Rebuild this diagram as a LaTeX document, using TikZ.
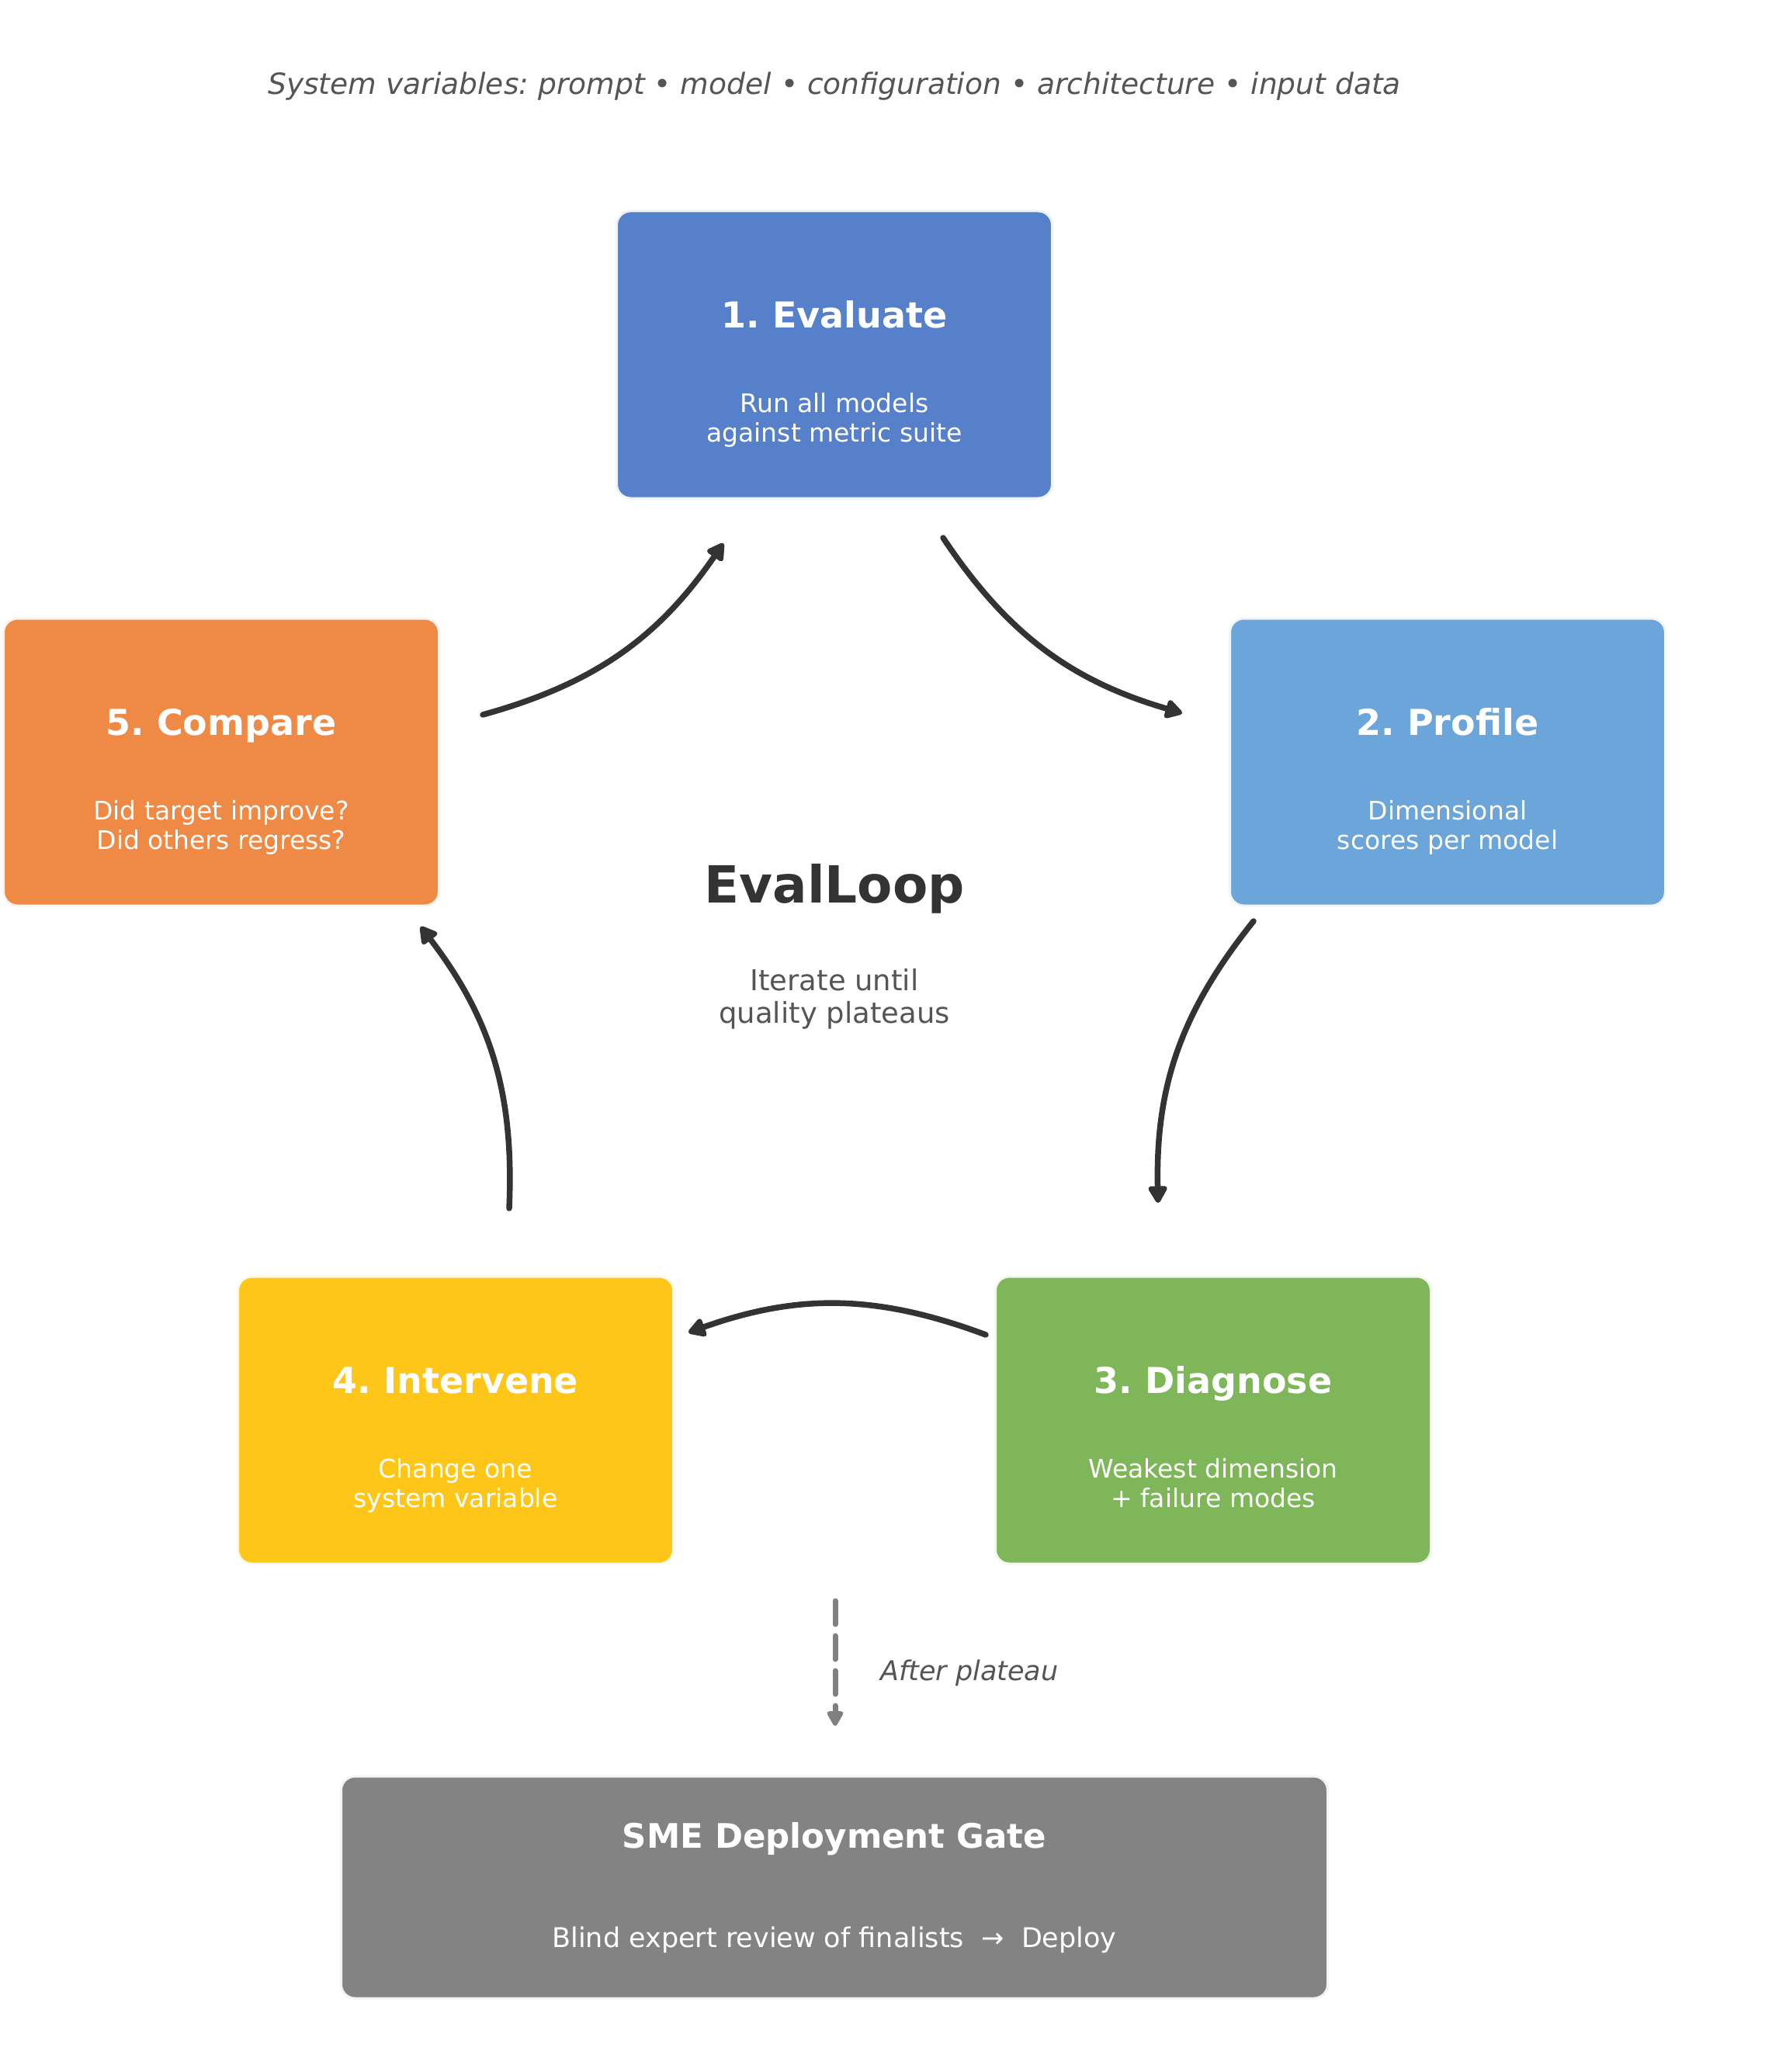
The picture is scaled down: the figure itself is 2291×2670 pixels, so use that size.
\documentclass[tikz,border=0pt]{standalone}
\usepackage{fontspec}
\setmainfont{DejaVu Sans}
\usetikzlibrary{arrows.meta,calc}
\definecolor{cEval}{HTML}{5780CA}
\definecolor{cProf}{HTML}{6BA5D9}
\definecolor{cDiag}{HTML}{7EB659}
\definecolor{cInt}{HTML}{FFC61A}
\definecolor{cComp}{HTML}{EE8A46}
\definecolor{cGate}{HTML}{838383}
\definecolor{ink}{HTML}{333333}
\definecolor{muted}{HTML}{555555}
\definecolor{dashgray}{HTML}{808080}
\frenchspacing
\begin{document}
\begin{tikzpicture}[x=1pt,y=-1pt,
  stage/.style={rectangle, rounded corners=18pt, minimum width=561pt, minimum height=370pt, inner sep=0pt, draw=#1!10, line width=3pt, fill=#1},
  ttl/.style={text=white, font=\fontsize{46}{54}\selectfont\bfseries, inner sep=0pt, anchor=base},
  sub/.style={text=white, font=\fontsize{33}{38}\selectfont, inner sep=0pt, anchor=base},
  loop/.style={draw=ink, line width=7.5pt, line cap=round, -{Triangle[length=25pt,width=27pt,round]}},
]
\useasboundingbox[fill=white] (0,0) rectangle (2291,2670);

\node[text=muted, font=\fontsize{37.6}{44}\selectfont\itshape, inner sep=0pt, anchor=base] (vars) at (1075,122) {System variables: prompt • model • configuration • architecture • input data};

\node[stage=cEval] (b1) at (1075,457) {};
\node[stage=cProf] (b2) at (1865,982) {};
\node[stage=cDiag] (b3) at (1563,1830) {};
\node[stage=cInt] (b4) at (587,1830) {};
\node[stage=cComp] (b5) at (285,982) {};

\node[ttl] (t1) at ($(b1)+(0,-35)$) {1. Evaluate};
\node[sub] (s1a) at ($(b1)+(0,74)$) {Run all models};
\node[sub] (s1b) at ($(b1)+(0,112)$) {against metric suite};
\node[ttl] (t2) at ($(b2)+(0,-35)$) {2. Profile};
\node[sub] (s2a) at ($(b2)+(0,74)$) {Dimensional};
\node[sub] (s2b) at ($(b2)+(0,112)$) {scores per model};
\node[ttl] (t3) at ($(b3)+(0,-35)$) {3. Diagnose};
\node[sub] (s3a) at ($(b3)+(0,74)$) {Weakest dimension};
\node[sub] (s3b) at ($(b3)+(0,112)$) {+ failure modes};
\node[ttl] (t4) at ($(b4)+(0,-35)$) {4. Intervene};
\node[sub] (s4a) at ($(b4)+(0,74)$) {Change one};
\node[sub] (s4b) at ($(b4)+(0,112)$) {system variable};
\node[ttl] (t5) at ($(b5)+(0,-35)$) {5. Compare};
\node[sub] (s5a) at ($(b5)+(0,74)$) {Did target improve?};
\node[sub] (s5b) at ($(b5)+(0,112)$) {Did others regress?};

\node[text=ink, font=\fontsize{66}{76}\selectfont\bfseries, inner sep=0pt, anchor=base] (loopname) at (1075,1163) {EvalLoop};
\node[text=muted, font=\fontsize{37}{42}\selectfont, align=center, inner sep=0pt] (loopsub) at (1075,1287) {Iterate until\\quality plateaus};

\coordinate (a1s) at (1215,693);
\coordinate (a1e) at (1523,919);
\coordinate (a2s) at (1615,1187);
\coordinate (a2e) at (1492,1550);
\coordinate (a3s) at (1270,1720);
\coordinate (a3e) at (887,1717);
\coordinate (a4s) at (656,1557);
\coordinate (a4e) at (542,1194);
\coordinate (a5s) at (622,921);
\coordinate (a5e) at (932,700);
\draw[loop] (a1s) to[bend right=20] (a1e);
\draw[loop] (a2s) to[bend right=20] (a2e);
\draw[loop] (a3s) to[bend right=20] (a3e);
\draw[loop] (a4s) to[bend right=20] (a4e);
\draw[loop] (a5s) to[bend right=20] (a5e);

\node[rectangle, rounded corners=18pt, minimum width=1271pt, minimum height=286pt, inner sep=0pt, fill=cGate, draw=cGate!10, line width=3pt] (gate) at (1075,2432) {};
\node[text=white, font=\fontsize{43.5}{52}\selectfont\bfseries, inner sep=0pt, anchor=base] (gt) at ($(gate)+(0,-51)$) {SME Deployment Gate};
\node[text=white, font=\fontsize{35}{42}\selectfont, inner sep=0pt, anchor=base] (gs) at ($(gate)+(0,77.5)$) {Blind expert review of finalists\ \ →\ \ Deploy};

\coordinate (ds) at (1076,2063);
\coordinate (de) at (1076,2224);
\draw[draw=dashgray, line width=7pt, line cap=round, dash pattern=on 30pt off 15pt, -{Triangle[length=22pt,width=23pt,round]}] (ds) -- (de);
\node[text=muted, font=\fontsize{35}{42}\selectfont\itshape, anchor=west, inner sep=0pt] (after) at (1134,2156) {After plateau};
\end{tikzpicture}
\end{document}
